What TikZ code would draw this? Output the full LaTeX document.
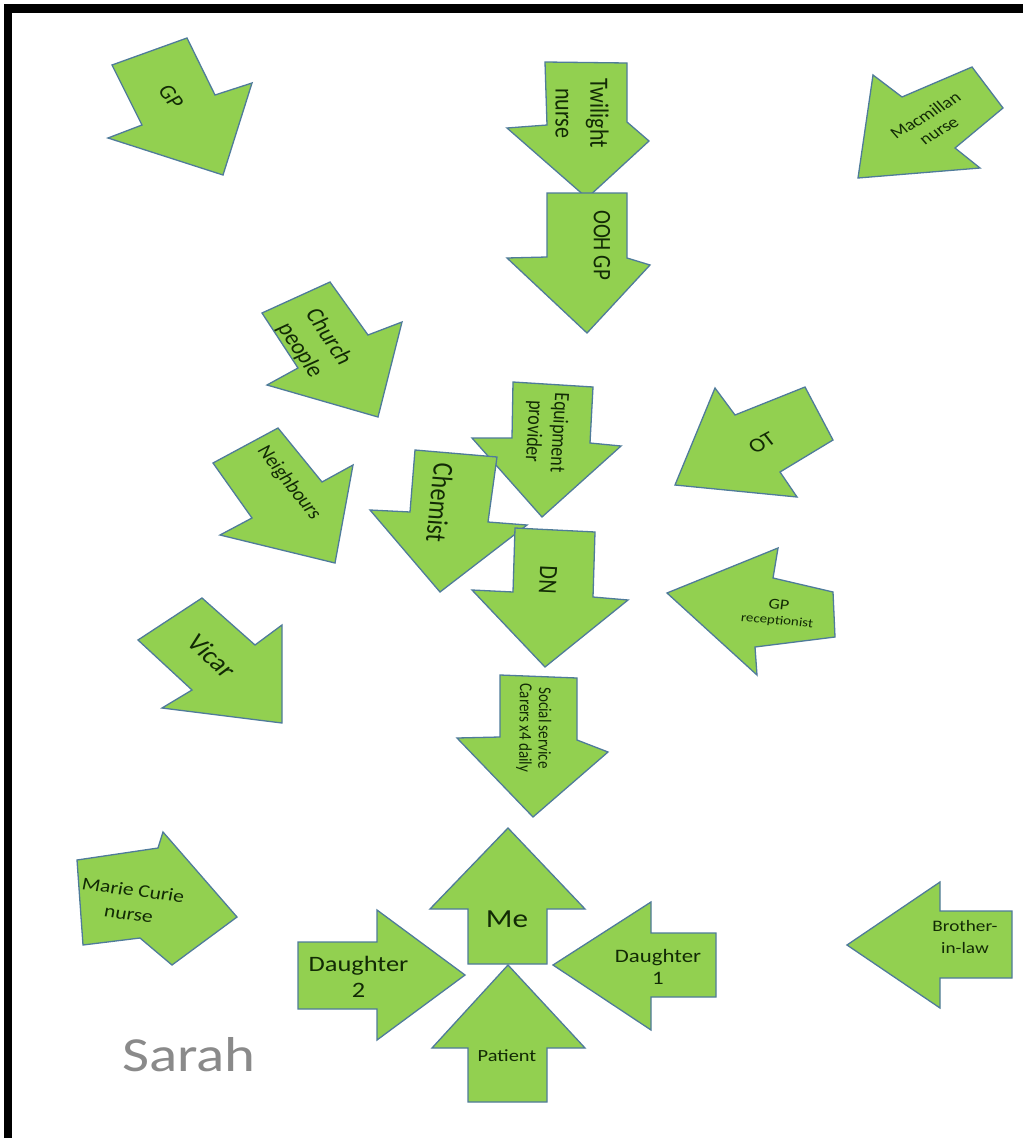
\documentclass[tikz,border=0pt]{standalone}
\usepackage{fontspec}
\setmainfont{Carlito}
\definecolor{arrowfill}{HTML}{92D050}
\definecolor{arrowline}{HTML}{4F7B9A}
\definecolor{txtcol}{HTML}{122A05}
\definecolor{sarahgray}{HTML}{8A8A8A}
\tikzset{
  arrowshape/.style={fill=arrowfill, draw=arrowline, line width=1.3pt, line join=miter},
  lbl/.style={inner sep=0pt, align=center, text=txtcol},
}
\newcommand\arlabel[7]{%
  \begin{scope}[shift={(#2,#3)},xscale=1.2]
    \node[lbl,rotate=#4,transform shape,font=\fontsize{#5}{#6}\selectfont] (#1) at (0,0) {#7};
  \end{scope}}
\begin{document}
\begin{tikzpicture}[x=1pt,y=-1pt]
\useasboundingbox (0,0) rectangle (1023,1138);
\fill[white] (0,0) rectangle (1023,1138);
% frame
\fill[black] (4,4) rectangle (1023,13);
\fill[black] (4,4) rectangle (12,1138);

% GP
\draw[arrowshape] (112,65) -- (187,38) -- (215,95) -- (252,83) -- (223,175) -- (108,138) -- (142,125) -- cycle;
\arlabel{gp}{171}{97}{-57}{20}{24}{GP}
% Twilight nurse
\draw[arrowshape] (545,62) -- (627,63) -- (627,122) -- (649,141) -- (587,198) -- (507,128) -- (547,125) -- cycle;
\arlabel{twilight}{582}{113}{-90}{22}{29}{Twilight\\nurse}
% OOH GP
\draw[arrowshape] (547,193) -- (627,193) -- (627,258) -- (650,265) -- (587,333) -- (507,258) -- (547,257) -- cycle;
\arlabel{oohgp}{602}{245}{-90}{21}{25}{OOH GP}
% Macmillan nurse
\draw[arrowshape] (972,67) -- (1003,108) -- (955,148) -- (980,168) -- (858,178) -- (873,75) -- (902,97) -- cycle;
\arlabel{macmillan}{932}{123}{36}{16}{19}{Macmillan\\nurse}
% Church people
\draw[arrowshape] (262,313) -- (330,282) -- (368,335) -- (402,322) -- (378,417) -- (267,385) -- (298,368) -- cycle;
\arlabel{church}{314}{344}{-61}{21}{27}{Church\\people}
% Neighbours
\draw[arrowshape] (278,428) -- (322,482) -- (353,465) -- (335,563) -- (220,535) -- (252,518) -- (213,463) -- cycle;
\arlabel{neighbours}{289}{483}{-57}{18}{22}{Neighbours}
% Equipment provider
\draw[arrowshape] (513,382) -- (593,387) -- (590,443) -- (621,446) -- (542,517) -- (472,438) -- (512,438) -- cycle;
\arlabel{equipment}{546}{432}{-93}{18}{21}{Equipment\\provider}
% Chemist
\draw[arrowshape] (415,450) -- (497,457) -- (488,522) -- (527,525) -- (440,592) -- (370,510) -- (410,512) -- cycle;
\arlabel{chemist}{440}{503}{-95}{24}{28}{Chemist}
% DN
\draw[arrowshape] (515,528) -- (595,532) -- (593,597) -- (628,600) -- (545,667) -- (472,590) -- (513,592) -- cycle;
\arlabel{dn}{548}{580}{-93}{22}{26}{DN}
% OT
\draw[arrowshape] (715,388) -- (735,415) -- (805,387) -- (833,440) -- (780,472) -- (797,497) -- (675,485) -- cycle;
\arlabel{ot}{762}{443}{33}{20}{24}{OT}
% GP receptionist
\draw[arrowshape] (778,548) -- (773,578) -- (833,592) -- (835,637) -- (755,647) -- (757,675) -- (667,593) -- cycle;
\arlabel{gprec}{778}{613}{-6}{15}{15}{GP\\{\fontsize{12.5}{13}\selectfont receptionist}}
% Vicar
\draw[arrowshape] (202,598) -- (255,645) -- (282,625) -- (282,723) -- (162,708) -- (192,690) -- (138,640) -- cycle;
\arlabel{vicar}{212}{656}{-48.5}{24}{28}{Vicar}
% Social service carers
\draw[arrowshape] (500,675) -- (577,678) -- (577,740) -- (608,752) -- (533,817) -- (457,738) -- (500,737) -- cycle;
\arlabel{social}{534}{728}{-90.5}{15}{16}{Social service\\Carers x4 daily}
% Marie Curie nurse
\draw[arrowshape] (77,860) -- (158,848) -- (163,832) -- (237,917) -- (172,965) -- (140,938) -- (83,945) -- cycle;
\arlabel{mariecurie}{131}{902}{-9}{18}{24}{Marie Curie\\nurse}
% Me
\draw[arrowshape] (508,828) -- (585,909) -- (547,909) -- (547,964) -- (468,964) -- (468,909) -- (430,909) -- cycle;
\arlabel{me}{507}{919}{0}{26}{30}{Me}
% Patient
\draw[arrowshape] (508,965) -- (585,1048) -- (547,1048) -- (547,1102) -- (468,1102) -- (468,1048) -- (432,1048) -- cycle;
\arlabel{patient}{507}{1056}{0}{17}{20}{Patient}
% Daughter 2
\draw[arrowshape] (298,942) -- (377,942) -- (377,910) -- (465,975) -- (377,1040) -- (377,1009) -- (298,1009) -- cycle;
\arlabel{daughtertwo}{358.5}{977}{0}{22}{26}{Daughter\\2}
% Daughter 1
\draw[arrowshape] (553,965) -- (651,902) -- (651,933) -- (716,933) -- (716,997) -- (651,997) -- (651,1030) -- cycle;
\arlabel{daughterone}{658}{967}{0}{19}{22}{Daughter\\1}
% Brother-in-law
\draw[arrowshape] (847,945) -- (940,882) -- (940,911) -- (1012,911) -- (1012,978) -- (940,978) -- (940,1008) -- cycle;
\arlabel{brother}{965}{937}{0}{16}{22}{Brother-\\in-law}
% Sarah
\begin{scope}[shift={(189,1055)},xscale=1.2]
\node[inner sep=0pt, text=sarahgray, transform shape, font=\fontsize{49}{55}\selectfont] (sarah) at (0,0) {Sarah};
\end{scope}
\end{tikzpicture}
\end{document}
